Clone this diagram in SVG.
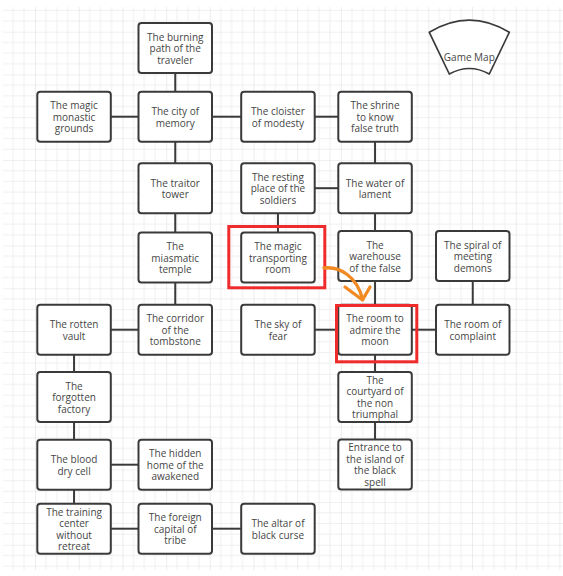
<svg xmlns="http://www.w3.org/2000/svg" width="563" height="576" viewBox="0 0 563 576">
<style>
.n rect{fill:#fff;stroke:#3a3a3a;stroke-width:2}
.n text{font-family:"Open Sans","Noto Sans",sans-serif;font-size:10px;fill:#464646;text-anchor:middle}
#connectors line{stroke:#3a3a3a;stroke-width:2}
.hl{fill:none;stroke:#ef2b2b;stroke-width:3}
</style>
<defs>
<pattern id="grid" patternUnits="userSpaceOnUse" x="-8.7" y="-11.06" width="43.7" height="42.76">
<rect width="43.7" height="42.76" fill="#fff"/>
<path d="M10.925 0V42.76M21.85 0V42.76M32.775 0V42.76M0 10.69H43.7M0 21.38H43.7M0 32.07H43.7" stroke="#f0f0f0" stroke-width="1" fill="none"/>
<path d="M0 0V42.76M0 0H43.7" stroke="#e2e2e2" stroke-width="1.2" fill="none"/>
</pattern>
</defs>
<rect width="563" height="576" fill="#fff"/>
<rect x="3" y="7" width="560" height="563" fill="url(#grid)"/>

<g id="connectors">
<line x1="175.25" y1="73" x2="175.25" y2="91.7"/>
<line x1="110.8" y1="116.7" x2="138.5" y2="116.7"/>
<line x1="212" y1="116.7" x2="241.2" y2="116.7"/>
<line x1="314.7" y1="116.7" x2="338.3" y2="116.7"/>
<line x1="175.25" y1="141.7" x2="175.25" y2="163.2"/>
<line x1="375.05" y1="141.7" x2="375.05" y2="163.2"/>
<line x1="314.7" y1="188.2" x2="338.3" y2="188.2"/>
<line x1="277.95" y1="213.2" x2="277.95" y2="232.5"/>
<line x1="175.25" y1="213.2" x2="175.25" y2="232.5"/>
<line x1="375.05" y1="213.2" x2="375.05" y2="231"/>
<line x1="175.25" y1="282.5" x2="175.25" y2="304.7"/>
<line x1="375.05" y1="281" x2="375.05" y2="304.7"/>
<line x1="472.75" y1="281" x2="472.75" y2="304.7"/>
<line x1="314.7" y1="329.7" x2="338.3" y2="329.7"/>
<line x1="411.8" y1="329.7" x2="436" y2="329.7"/>
<line x1="110.8" y1="329.7" x2="138.5" y2="329.7"/>
<line x1="74.05" y1="354.7" x2="74.05" y2="372"/>
<line x1="375.05" y1="354.7" x2="375.05" y2="372"/>
<line x1="74.05" y1="422" x2="74.05" y2="439.7"/>
<line x1="375.05" y1="422" x2="375.05" y2="439.5"/>
<line x1="110.8" y1="464.7" x2="138.5" y2="464.7"/>
<line x1="74.05" y1="489.7" x2="74.05" y2="503.7"/>
<line x1="110.8" y1="528.7" x2="138.5" y2="528.7"/>
<line x1="212" y1="528.7" x2="241.2" y2="528.7"/>
</g>

<g id="n-burning" class="n"><rect x="138.5" y="23" width="73.5" height="50" rx="3"/><text y="40.6"><tspan x="175.25">The burning</tspan><tspan x="175.25" dy="11.5">path of the</tspan><tspan x="175.25" dy="11.5">traveler</tspan></text></g>
<g id="n-monastic" class="n"><rect x="37.3" y="91.7" width="73.5" height="50" rx="3"/><text y="109.3"><tspan x="74.05">The magic</tspan><tspan x="74.05" dy="11.5">monastic</tspan><tspan x="74.05" dy="11.5">grounds</tspan></text></g>
<g id="n-city" class="n"><rect x="138.5" y="91.7" width="73.5" height="50" rx="3"/><text y="115"><tspan x="175.25">The city of</tspan><tspan x="175.25" dy="11.5">memory</tspan></text></g>
<g id="n-cloister" class="n"><rect x="241.2" y="91.7" width="73.5" height="50" rx="3"/><text y="115"><tspan x="277.95">The cloister</tspan><tspan x="277.95" dy="11.5">of modesty</tspan></text></g>
<g id="n-shrine" class="n"><rect x="338.3" y="91.7" width="73.5" height="50" rx="3"/><text y="109.3"><tspan x="375.05">The shrine</tspan><tspan x="375.05" dy="11.5">to know</tspan><tspan x="375.05" dy="11.5">false truth</tspan></text></g>
<g id="n-traitor" class="n"><rect x="138.5" y="163.2" width="73.5" height="50" rx="3"/><text y="186.5"><tspan x="175.25">The traitor</tspan><tspan x="175.25" dy="11.5">tower</tspan></text></g>
<g id="n-resting" class="n"><rect x="241.2" y="163.2" width="73.5" height="50" rx="3"/><text y="180.8"><tspan x="277.95">The resting</tspan><tspan x="277.95" dy="11.5">place of the</tspan><tspan x="277.95" dy="11.5">soldiers</tspan></text></g>
<g id="n-water" class="n"><rect x="338.3" y="163.2" width="73.5" height="50" rx="3"/><text y="186.5"><tspan x="375.05">The water of</tspan><tspan x="375.05" dy="11.5">lament</tspan></text></g>
<g id="n-miasmatic" class="n"><rect x="138.5" y="232.5" width="73.5" height="50" rx="3"/><text y="250.1"><tspan x="175.25">The</tspan><tspan x="175.25" dy="11.5">miasmatic</tspan><tspan x="175.25" dy="11.5">temple</tspan></text></g>
<g id="n-transporting" class="n"><rect x="241.2" y="232.5" width="73.5" height="50" rx="3"/><text y="250.1"><tspan x="277.95">The magic</tspan><tspan x="277.95" dy="11.5">transporting</tspan><tspan x="277.95" dy="11.5">room</tspan></text></g>
<g id="n-warehouse" class="n"><rect x="338.3" y="231" width="73.5" height="50" rx="3"/><text y="248.6"><tspan x="375.05">The</tspan><tspan x="375.05" dy="11.5">warehouse</tspan><tspan x="375.05" dy="11.5">of the false</tspan></text></g>
<g id="n-spiral" class="n"><rect x="436" y="231" width="73.5" height="50" rx="3"/><text y="248.6"><tspan x="472.75">The spiral of</tspan><tspan x="472.75" dy="11.5">meeting</tspan><tspan x="472.75" dy="11.5">demons</tspan></text></g>
<g id="n-rotten" class="n"><rect x="37.3" y="304.7" width="73.5" height="50" rx="3"/><text y="328"><tspan x="74.05">The rotten</tspan><tspan x="74.05" dy="11.5">vault</tspan></text></g>
<g id="n-corridor" class="n"><rect x="138.5" y="304.7" width="73.5" height="50" rx="3"/><text y="322.3"><tspan x="175.25">The corridor</tspan><tspan x="175.25" dy="11.5">of the</tspan><tspan x="175.25" dy="11.5">tombstone</tspan></text></g>
<g id="n-sky" class="n"><rect x="241.2" y="304.7" width="73.5" height="50" rx="3"/><text y="328"><tspan x="277.95">The sky of</tspan><tspan x="277.95" dy="11.5">fear</tspan></text></g>
<g id="n-moon" class="n"><rect x="338.3" y="304.7" width="73.5" height="50" rx="3"/><text y="322.3"><tspan x="375.05">The room to</tspan><tspan x="375.05" dy="11.5">admire the</tspan><tspan x="375.05" dy="11.5">moon</tspan></text></g>
<g id="n-complaint" class="n"><rect x="436" y="304.7" width="73.5" height="50" rx="3"/><text y="328"><tspan x="472.75">The room of</tspan><tspan x="472.75" dy="11.5">complaint</tspan></text></g>
<g id="n-factory" class="n"><rect x="37.3" y="372" width="73.5" height="50" rx="3"/><text y="389.6"><tspan x="74.05">The</tspan><tspan x="74.05" dy="11.5">forgotten</tspan><tspan x="74.05" dy="11.5">factory</tspan></text></g>
<g id="n-courtyard" class="n"><rect x="338.3" y="372" width="73.5" height="50" rx="3"/><text y="383.8"><tspan x="375.05">The</tspan><tspan x="375.05" dy="11.5">courtyard of</tspan><tspan x="375.05" dy="11.5">the non</tspan><tspan x="375.05" dy="11.5">triumphal</tspan></text></g>
<g id="n-blood" class="n"><rect x="37.3" y="439.7" width="73.5" height="50" rx="3"/><text y="463"><tspan x="74.05">The blood</tspan><tspan x="74.05" dy="11.5">dry cell</tspan></text></g>
<g id="n-hidden" class="n"><rect x="138.5" y="439.7" width="73.5" height="50" rx="3"/><text y="457.3"><tspan x="175.25">The hidden</tspan><tspan x="175.25" dy="11.5">home of the</tspan><tspan x="175.25" dy="11.5">awakened</tspan></text></g>
<g id="n-entrance" class="n"><rect x="338.3" y="439.5" width="73.5" height="50" rx="3"/><text y="451.3"><tspan x="375.05">Entrance to</tspan><tspan x="375.05" dy="11.5">the island of</tspan><tspan x="375.05" dy="11.5">the black</tspan><tspan x="375.05" dy="11.5">spell</tspan></text></g>
<g id="n-training" class="n"><rect x="37.3" y="503.7" width="73.5" height="50" rx="3"/><text y="515.5"><tspan x="74.05">The training</tspan><tspan x="74.05" dy="11.5">center</tspan><tspan x="74.05" dy="11.5">without</tspan><tspan x="74.05" dy="11.5">retreat</tspan></text></g>
<g id="n-foreign" class="n"><rect x="138.5" y="503.7" width="73.5" height="50" rx="3"/><text y="521.3"><tspan x="175.25">The foreign</tspan><tspan x="175.25" dy="11.5">capital of</tspan><tspan x="175.25" dy="11.5">tribe</tspan></text></g>
<g id="n-altar" class="n"><rect x="241.2" y="503.7" width="73.5" height="50" rx="3"/><text y="527"><tspan x="277.95">The altar of</tspan><tspan x="277.95" dy="11.5">black curse</tspan></text></g>

<g id="n-gamemap">
<path d="M429.3 32.3Q469.3 8 509.3 32.3L489.3 74Q469.3 63 449.3 74Z" fill="#fff" stroke="#3a3a3a" stroke-width="1.7" stroke-linejoin="round"/>
<text x="469.3" y="60.8" font-family="'Open Sans','Noto Sans',sans-serif" font-size="10" fill="#464646" text-anchor="middle">Game Map</text>
</g>

<g id="highlights">
<rect class="hl" x="228.8" y="226.5" width="96" height="61.3"/>
<rect class="hl" x="336.5" y="305.5" width="80.3" height="56.3"/>
<g fill="none" stroke="#f28a24" stroke-width="3.3" stroke-linecap="round" stroke-linejoin="round">
<path d="M324 268C340 266 357 277 362.5 299"/>
<path d="M345 287L362.5 300L370 287"/>
</g>
</g>
</svg>
